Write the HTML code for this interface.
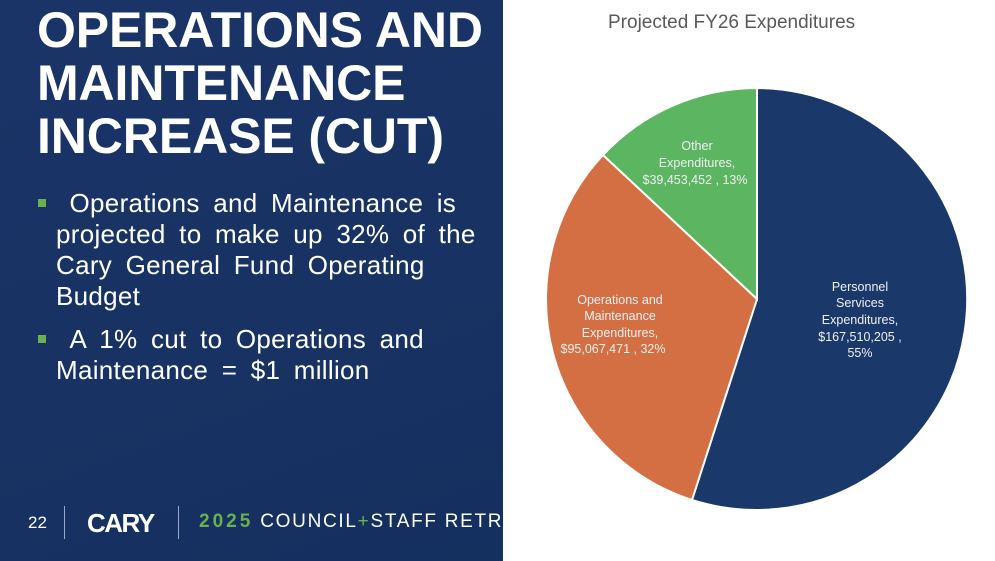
<!DOCTYPE html>
<html><head><meta charset="utf-8"><style>
*{margin:0;padding:0}
body{width:995px;height:561px;position:relative;overflow:hidden;background:#fff;font-family:"Liberation Sans",Arial,sans-serif}
#left{position:absolute;left:0;top:0;width:503px;height:561px;overflow:hidden;background:linear-gradient(160deg,#1b3468 0%,#183263 60%,#14305f 100%)}
h1{position:absolute;left:37px;top:4px;color:#fff;font-size:50px;line-height:53px;font-weight:bold;letter-spacing:-0.1px;white-space:nowrap}
.b{position:absolute;left:38px;color:#fff;font-size:26px;line-height:31px;letter-spacing:0.3px;word-spacing:6px;white-space:nowrap}
.b span.sq{position:absolute;left:0;top:11px;width:8px;height:8px;background:#6bb04f}
.b div{margin-left:18px}
.t{position:absolute;color:#fff}
</style></head><body>
<div id="left">
<h1>OPERATIONS AND<br>MAINTENANCE<br>INCREASE (CUT)</h1>
<div class="b" style="top:188px"><span class="sq"></span><div>&nbsp;Operations and Maintenance is<br>projected to make up 32% of the<br>Cary General Fund Operating<br>Budget</div></div>
<div class="b" style="top:324px"><span class="sq"></span><div>&nbsp;A 1% cut to Operations and<br>Maintenance = $1 million</div></div>
<div class="t" style="left:28px;top:513px;font-size:17px">22</div>
<div style="position:absolute;left:64px;top:506px;width:1px;height:33px;background:#9aa8c4"></div>
<div class="t" style="left:87px;top:508px;font-size:26px;font-weight:bold;letter-spacing:-1.5px">CARY</div>
<div style="position:absolute;left:178px;top:506px;width:1px;height:33px;background:#9aa8c4"></div>
<div class="t" style="left:199px;top:511px;font-size:19px;letter-spacing:1.7px;white-space:nowrap"><b style="color:#6bb04f;letter-spacing:3px">2025</b> COUNCIL<span style="color:#6bb04f">+</span>STAFF RETREAT</div>
</div>
<div style="position:absolute;left:608px;top:12px;font-size:19px;color:#595959">Projected FY26 Expenditures</div>
<svg style="position:absolute;left:0;top:0" width="995" height="561">
<path d="M757,299 L757,88 A211,211 0 1,1 692,500 Z" fill="#1b386b" stroke="#fff" stroke-width="2"/>
<path d="M757,299 L692,500 A211,211 0 0,1 603,155 Z" fill="#d46f43" stroke="#fff" stroke-width="2"/>
<path d="M757,299 L603,155 A211,211 0 0,1 757,88 Z" fill="#5cb560" stroke="#fff" stroke-width="2"/>
<g font-family="Liberation Sans,Arial,sans-serif" font-size="12.5" fill="#eef0f4" text-anchor="middle">
<text x="697" y="150">Other</text><text x="697" y="167">Expenditures,</text><text x="695" y="184">$39,453,452 , 13%</text>
<text x="620" y="304">Operations and</text><text x="620" y="320">Maintenance</text><text x="620" y="337">Expenditures,</text><text x="613" y="353">$95,067,471 , 32%</text>
<text x="860" y="291">Personnel</text><text x="860" y="307">Services</text><text x="860" y="324">Expenditures,</text><text x="860" y="341">$167,510,205 ,</text><text x="860" y="357">55%</text>
</g></svg>
</body></html>
